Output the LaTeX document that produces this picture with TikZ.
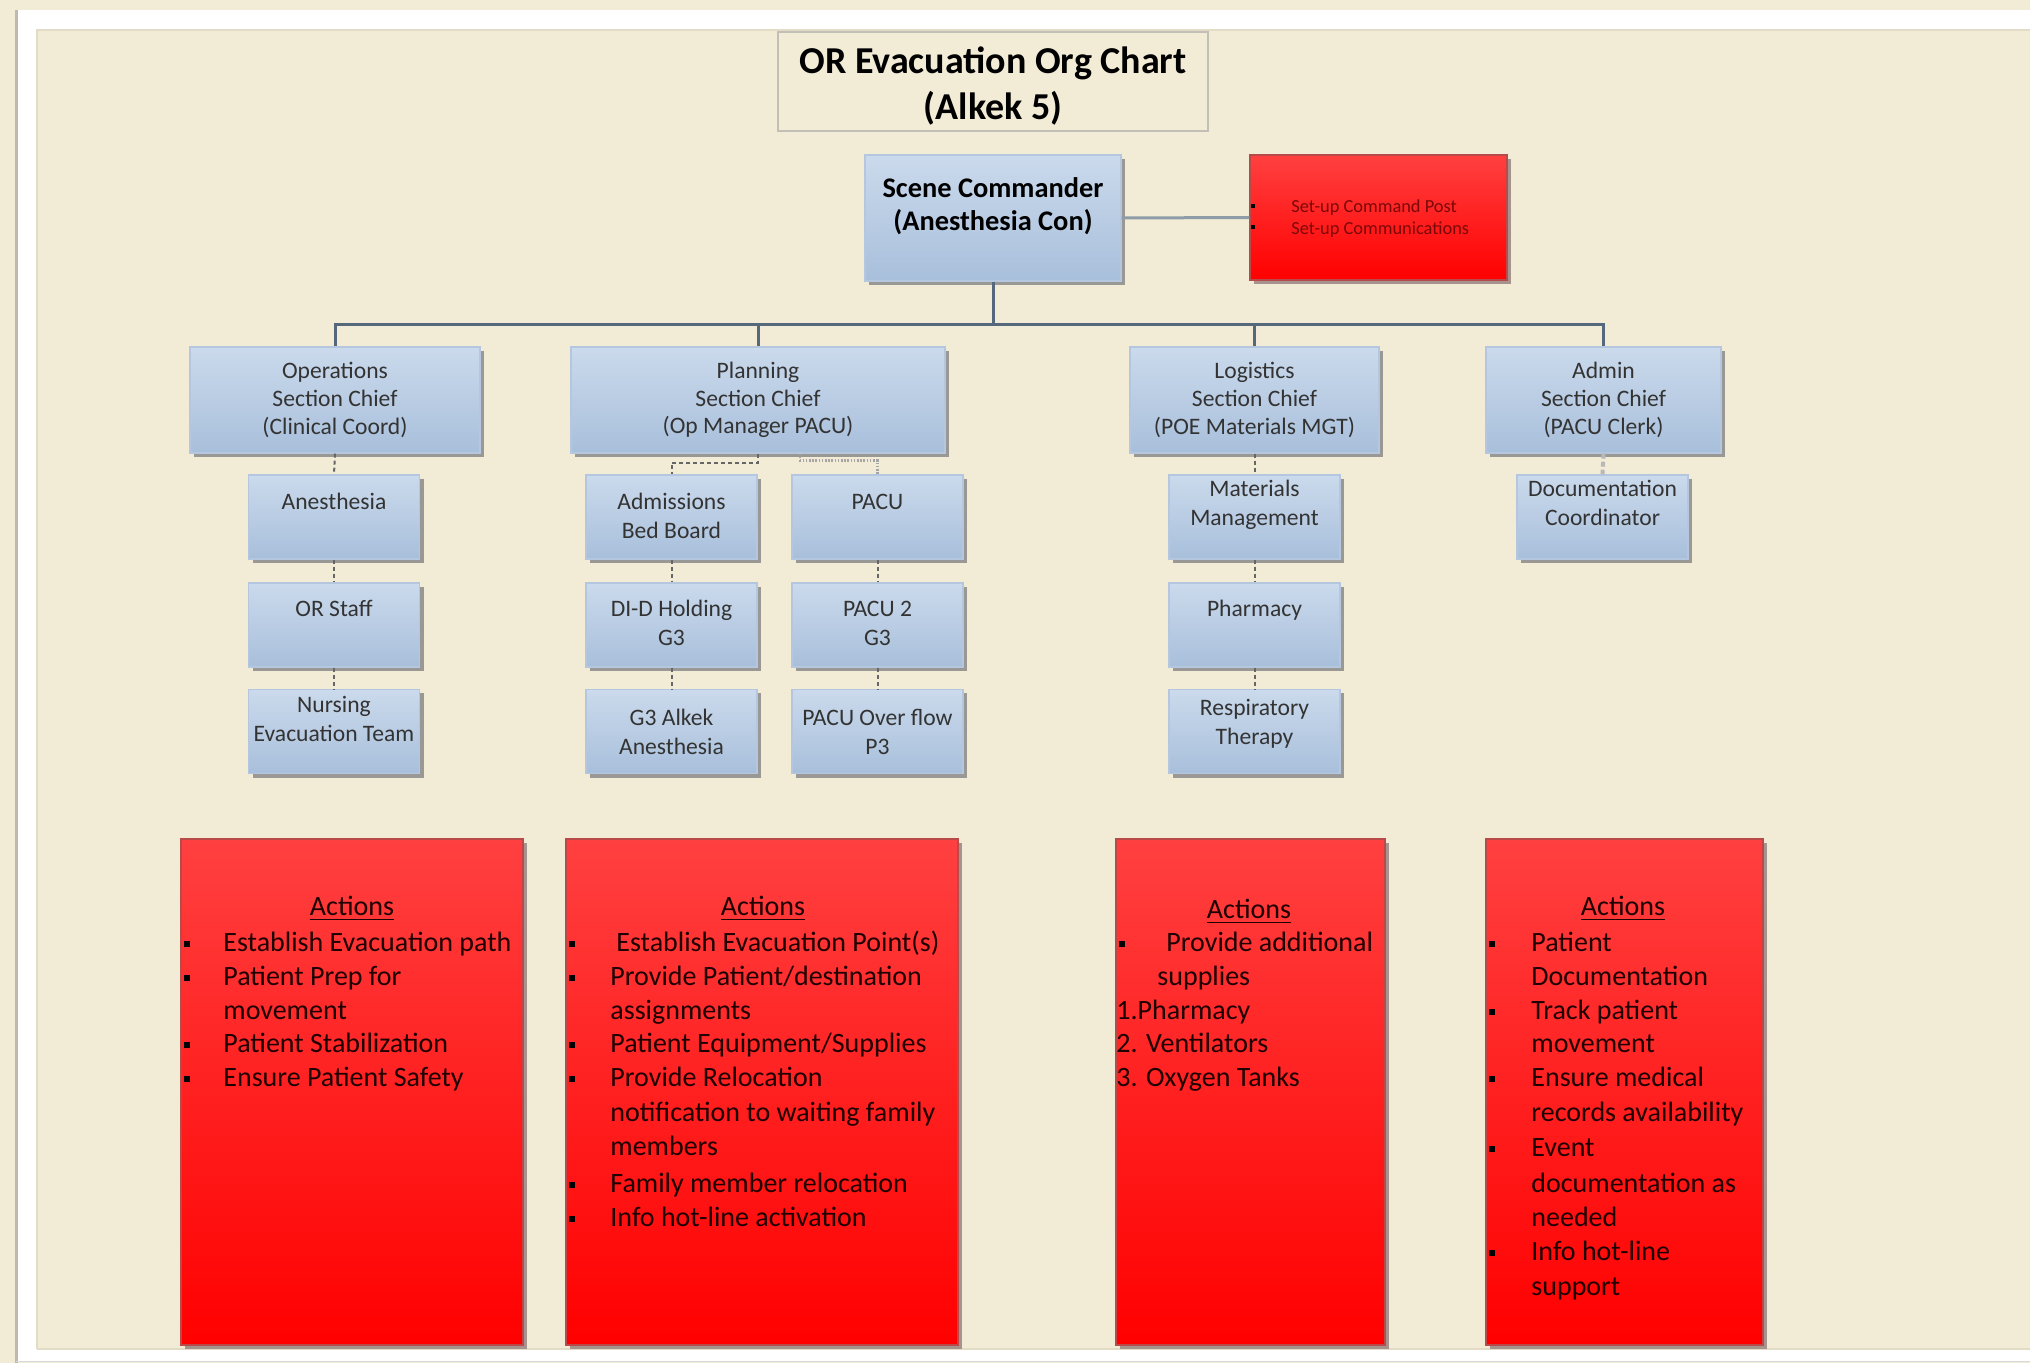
\documentclass[tikz,border=0pt]{standalone}
\usepackage{fontspec}
\setmainfont{Carlito}
\usetikzlibrary{calc,shadows}
\definecolor{bg}{HTML}{F2EBD6}
\definecolor{bgedge}{HTML}{E2DBC6}
\definecolor{framegray}{HTML}{BDB9AE}
\definecolor{bedge}{HTML}{B4C7DE}
\definecolor{btop}{HTML}{CBDAEC}
\definecolor{bbot}{HTML}{A8BFDB}
\definecolor{shad}{HTML}{8A8A8A}
\definecolor{btxt}{HTML}{333333}
\definecolor{busc}{HTML}{56687B}
\definecolor{cmdlnc}{HTML}{8E9CA8}
\definecolor{dashc}{HTML}{666666}
\definecolor{dotc}{HTML}{A5A5A5}
\definecolor{admdc}{HTML}{B8B8B8}
\definecolor{rtop}{HTML}{FF4040}
\definecolor{rbot}{HTML}{FF0000}
\definecolor{redge}{HTML}{B84A4A}
\definecolor{rshad}{HTML}{9E8A86}
\definecolor{acttxtc}{HTML}{1E0000}
\definecolor{toptxtc}{HTML}{7A0808}
\definecolor{titleedge}{HTML}{C2BFB6}
\begin{document}
\begin{tikzpicture}[x=0.5pt,y=-0.5pt,
  every node/.style={inner sep=0pt},
  lvbox/.style={draw=bedge, line width=0.7pt, top color=btop, bottom color=bbot,
    drop shadow={shadow xshift=2pt,shadow yshift=-2pt,fill=shad,opacity=0.85}},
  lvtwo/.style={lvbox, minimum height=53pt, align=center, text=btxt,
    font=\fontsize{11.8}{13.9}\selectfont},
  lvthree/.style={lvbox, minimum width=85.5pt, minimum height=42pt},
  lvtxt/.style={anchor=north, align=center, text=btxt, font=\fontsize{11.8}{14.4}\selectfont, yshift=-1.2pt},
  cmdtxt/.style={anchor=north, align=center, text=black, font=\bfseries\fontsize{14.2}{16.8}\selectfont},
  titlebox/.style={draw=titleedge, line width=1.2pt, fill=bg},
  titletxt/.style={align=center, font=\bfseries\fontsize{19}{23.3}\selectfont},
  redbox/.style={draw=redge, line width=0.7pt, top color=rtop, bottom color=rbot,
    drop shadow={shadow xshift=2pt,shadow yshift=-2pt,fill=rshad,opacity=0.9}},
  toptxt/.style={anchor=west, align=left, text=toptxtc, font=\fontsize{9.2}{11}\selectfont},
  actl/.style={anchor=west, text=acttxtc, font=\fontsize{14}{16.8}\selectfont, text height=10.5pt, text depth=3pt, yshift=-1.2pt},
  actt/.style={text=acttxtc, font=\fontsize{14}{16.8}\selectfont, text height=10.5pt, text depth=3pt, yshift=-1.2pt},
  busline/.style={draw=busc, line width=1.5pt},
  cmdline/.style={draw=cmdlnc, line width=1.5pt},
  dashln/.style={draw=dashc, line width=1pt, dash pattern=on 2pt off 1.5pt},
  dotln/.style={draw=dotc, line width=1.3pt, dash pattern=on 0.8pt off 0.8pt},
  admdash/.style={draw=admdc, line width=2pt, dash pattern=on 2.5pt off 1.5pt},
  bul/.style={fill=black}
]
\useasboundingbox (0,0) rectangle (2030,1363);
% background and frame
\fill[bg] (0,0) rectangle (2030,1363);
\fill[white] (16,10) rectangle (2030,1361);
\draw[framegray, line width=1.5pt] (16,10) -- (16,1363);
\draw[gray!30, line width=0.8pt] (16,1361.5) -- (2030,1361.5);
\fill[bg] (37,30) rectangle (2030,1349);
\draw[bgedge, line width=0.8pt] (37,1349) -- (37,30) -- (2030,30);
\draw[bgedge, line width=0.8pt] (37,1349) -- (2030,1349);

% title
\node[titlebox, minimum width=215pt, minimum height=49.5pt] (title) at (993,81.5) {};
\node[titletxt] (title-t) at (993,86) {OR Evacuation Org Chart\\(Alkek 5)};

% commander
\node[lvbox, minimum width=128pt, minimum height=63pt] (cmd) at (993,218) {};
\node[cmdtxt] (cmdt) at ($(cmd.north)+(0,19)$) {\strut Scene Commander\\(Anesthesia Con)};
\node[redbox, minimum width=128.5pt, minimum height=62.5pt] (cmdred) at (1378.5,217.5) {};
\node[toptxt] (cmdredt) at (1291,218.5) {Set-up Command Post\\Set-up Communications};
\fill[bul] (1251,204) rectangle ++(4,4);
\fill[bul] (1251,225) rectangle ++(4,4);

% level 2
\node[lvtwo, minimum width=145pt] (ops) at (335,400) {Operations\\Section Chief\\(Clinical Coord)};
\node[lvtwo, minimum width=187pt] (plan) at (758,400) {Planning\\Section Chief\\(Op Manager PACU)};
\node[lvtwo, minimum width=124.5pt] (logi) at (1254.5,400) {Logistics\\Section Chief\\(POE Materials MGT)};
\node[lvtwo, minimum width=117.5pt] (admn) at (1603.5,400) {Admin\\Section Chief\\(PACU Clerk)};

% level 3 boxes
\node[lvthree] (anes) at (334,517) {};
\node[lvthree] (orst) at (334,625) {};
\node[lvthree] (nurs) at (334,731.5) {};
\node[lvthree] (admi) at (671.5,517) {};
\node[lvthree] (didh) at (671.5,625) {};
\node[lvthree] (galk) at (671.5,731.5) {};
\node[lvthree] (pacu) at (877.5,517) {};
\node[lvthree] (pacb) at (877.5,625) {};
\node[lvthree] (pove) at (877.5,731.5) {};
\node[lvthree] (matm) at (1254.5,517) {};
\node[lvthree] (phar) at (1254.5,625) {};
\node[lvthree] (resp) at (1254.5,731.5) {};
\node[lvthree] (docc) at (1602.5,517) {};

% level 3 texts
\node[lvtxt] (anes-t) at ($(anes.north)+(0,12.5)$) {\strut Anesthesia};
\node[lvtxt] (orst-t) at ($(orst.north)+(0,11.5)$) {\strut OR Staff};
\node[lvtxt] (nurs-t) at ($(nurs.north)+(0,0.5)$) {\strut Nursing\\Evacuation Team};
\node[lvtxt] (admi-t) at ($(admi.north)+(0,12.5)$) {\strut Admissions\\Bed Board};
\node[lvtxt] (didh-t) at ($(didh.north)+(0,11.5)$) {\strut DI-D Holding\\G3};
\node[lvtxt] (galk-t) at ($(galk.north)+(0,13.5)$) {\strut G3 Alkek\\Anesthesia};
\node[lvtxt] (pacu-t) at ($(pacu.north)+(0,12.5)$) {\strut PACU};
\node[lvtxt] (pacb-t) at ($(pacb.north)+(0,11.5)$) {\strut PACU 2\\G3};
\node[lvtxt] (pove-t) at ($(pove.north)+(0,13.5)$) {\strut PACU Over flow\\P3};
\node[lvtxt] (matm-t) at ($(matm.north)+(0,-0.5)$) {\strut Materials\\Management};
\node[lvtxt] (phar-t) at ($(phar.north)+(0,11.5)$) {\strut Pharmacy};
\node[lvtxt] (resp-t) at ($(resp.north)+(0,3.5)$) {\strut Respiratory\\Therapy};
\node[lvtxt] (docc-t) at ($(docc.north)+(0,-0.5)$) {\strut Documentation\\Coordinator};

% connectors
\coordinate (bus) at ($(cmd.south)+(0,43)$);
\draw[busline] (cmd.south) -- (bus);
\draw[busline] (bus) -| (ops.north);
\draw[busline] (bus) -| (plan.north);
\draw[busline] (bus) -| (logi.north);
\draw[busline] (bus) -| (admn.north);
\draw[cmdline] (cmd.east) -- (cmdred.west);

\draw[dashln] (ops.south) -- (anes.north);
\draw[dashln] (anes.south) -- (orst.north);
\draw[dashln] (orst.south) -- (nurs.north);
\draw[dashln] (plan.south) -- ++(0,9) -| (admi.north);
\draw[dotln] ($(plan.south)+(42,0)$) -- ++(0,7) -| (pacu.north);
\draw[dashln] (admi.south) -- (didh.north);
\draw[dashln] (didh.south) -- (galk.north);
\draw[dashln] (pacu.south) -- (pacb.north);
\draw[dashln] (pacb.south) -- (pove.north);
\draw[dashln] (logi.south) -- (matm.north);
\draw[dashln] (matm.south) -- (phar.north);
\draw[dashln] (phar.south) -- (resp.north);
\draw[admdash] (admn.south) -- (docc.north);

% action boxes
\node[redbox, minimum width=171pt, minimum height=253pt] (act1) at (352,1092) {};
\node[redbox, minimum width=196pt, minimum height=253pt] (act2) at (762,1092) {};
\node[redbox, minimum width=134.5pt, minimum height=253pt] (act3) at (1250.5,1092) {};
\node[redbox, minimum width=138.5pt, minimum height=253pt] (act4) at (1624.5,1092) {};

\node[actt] (act1h) at (352,906) {\underline{Actions}};
\node[actt] (act2h) at (763,906) {\underline{Actions}};
\node[actt] (act3h) at (1249,909) {\underline{Actions}};
\node[actt] (act4h) at (1623,906) {\underline{Actions}};

% box 1
\node[actl] (a1a) at (223,942) {Establish Evacuation path};
\node[actl] (a1b) at (223,976) {Patient Prep for};
\node[actl] (a1c) at (223,1010) {movement};
\node[actl] (a1d) at (223,1043) {Patient Stabilization};
\node[actl] (a1e) at (223,1077) {Ensure Patient Safety};
\foreach \yy in {942,976,1043,1077} \fill[bul] (184,\yy-1) rectangle ++(6,6);

% box 2
\node[actl] (a2a) at (616,942) {Establish Evacuation Point(s)};
\node[actl] (a2b) at (610,976) {Provide Patient/destination};
\node[actl] (a2c) at (610,1010) {assignments};
\node[actl] (a2d) at (610,1043) {Patient Equipment/Supplies};
\node[actl] (a2e) at (610,1077) {Provide Relocation};
\node[actl] (a2f) at (610,1112) {notification to waiting family};
\node[actl] (a2g) at (610,1146) {members};
\node[actl] (a2h) at (610,1183) {Family member relocation};
\node[actl] (a2i) at (610,1217) {Info hot-line activation};
\foreach \yy in {942,976,1043,1077,1183,1217} \fill[bul] (569,\yy-1) rectangle ++(6,6);

% box 3
\node[actl] (a3a) at (1166,942) {Provide additional};
\node[actl] (a3b) at (1157,976) {supplies};
\node[actl] (a3c) at (1116,1010) {1.Pharmacy};
\node[actl] (a3d) at (1116,1043) {2. Ventilators};
\node[actl] (a3e) at (1116,1077) {3. Oxygen Tanks};
\fill[bul] (1119,941) rectangle ++(6,6);

% box 4
\node[actl] (a4a) at (1531,942) {Patient};
\node[actl] (a4b) at (1531,976) {Documentation};
\node[actl] (a4c) at (1531,1010) {Track patient};
\node[actl] (a4d) at (1531,1043) {movement};
\node[actl] (a4e) at (1531,1077) {Ensure medical};
\node[actl] (a4f) at (1531,1112) {records availability};
\node[actl] (a4g) at (1531,1147) {Event};
\node[actl] (a4h) at (1531,1183) {documentation as};
\node[actl] (a4i) at (1531,1217) {needed};
\node[actl] (a4j) at (1531,1251) {Info hot-line};
\node[actl] (a4k) at (1531,1286) {support};
\foreach \yy in {942,1010,1077,1147,1251} \fill[bul] (1489,\yy-1) rectangle ++(6,6);
\end{tikzpicture}
\end{document}
